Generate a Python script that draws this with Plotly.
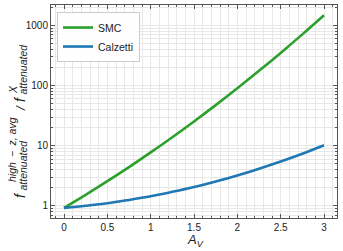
import plotly.graph_objects as go

a_v = [0.0, 0.25, 0.5, 0.75, 1.0, 1.25, 1.5, 1.75, 2.0, 2.25, 2.5, 2.75, 3.0]
smc = [0.93, 1.53, 2.58, 4.42, 7.76, 13.9, 25.4, 47.4, 90.4, 176, 350, 711, 1479]
calzetti = [0.93, 1.01, 1.11, 1.26, 1.45, 1.72, 2.07, 2.56, 3.22, 4.16, 5.48, 7.38, 10.2]
y_tickvals = [1, 10, 100, 1000]
y_ticktext = ["1", "10", "100", "1000"]
x_tickvals = [0, 0.5, 1, 1.5, 2, 2.5, 3]
x_ticktext = ["0", "0.5", "1", "1.5", "2", "2.5", "3"]

FONT = "Liberation Sans, Arial, sans-serif"
AXC = "#555555"
GRID = "#e8e8e8"

fig = go.Figure()
fig.add_trace(go.Scatter(x=a_v, y=smc, mode="lines", name="SMC",
                         line=dict(color="#2ca02c", width=2.6, shape="spline")))
fig.add_trace(go.Scatter(x=a_v, y=calzetti, mode="lines", name="Calzetti",
                         line=dict(color="#1f77b4", width=2.6, shape="spline")))

fig.update_layout(
    width=343, height=251,
    margin=dict(l=51, r=6, t=5, b=33),
    paper_bgcolor="white", plot_bgcolor="white",
    font=dict(family=FONT, size=10, color="#222222"),
    legend=dict(x=0.021, y=0.967, xanchor="left", yanchor="top",
                bgcolor="rgba(255,255,255,0.9)", bordercolor="#cccccc", borderwidth=1,
                font=dict(size=10.5, color="#222222"), itemwidth=30,
                tracegroupgap=0),
    showlegend=True,
)

fig.update_xaxes(
    range=[-0.15, 3.15], tickvals=x_tickvals, ticktext=x_ticktext,
    ticks="inside", ticklen=4, tickwidth=1, tickcolor=AXC,
    showline=True, linecolor=AXC, linewidth=1, mirror="ticks",
    showgrid=True, gridcolor=GRID, gridwidth=1, zeroline=False,
    minor=dict(dtick=0.1, tick0=0, ticks="inside", ticklen=2, tickcolor=AXC,
               showgrid=True, gridcolor=GRID, gridwidth=1),
)

fig.update_yaxes(
    type="log", range=[-0.20, 3.34], tickvals=y_tickvals, ticktext=y_ticktext,
    ticks="inside", ticklen=4, tickwidth=1, tickcolor=AXC,
    showline=True, linecolor=AXC, linewidth=1, mirror="ticks",
    showgrid=True, gridcolor=GRID, gridwidth=1, zeroline=False,
    minor=dict(dtick="D1", ticks="inside", ticklen=2, tickcolor=AXC,
               showgrid=True, gridcolor=GRID, gridwidth=1),
)

# text pieces placed by pixel position (page coordinates)
def lab(text, px, py, size, angle=-90):
    fig.add_annotation(text=text, xref="paper", yref="paper", x=0, y=0,
                       xshift=px - 51, yshift=218 - py, xanchor="center", yanchor="middle",
                       textangle=angle, showarrow=False,
                       font=dict(family=FONT, size=size, color="#222222"))

lab("<i>f</i>", 20, 195, 14)
lab("<i>high\u2002−\u2002z, avg</i>", 12, 150, 10.5)
lab("<i>attenuated</i>", 22.5, 165, 10.5)
lab("<i>/</i>", 20, 108, 13)
lab("<i>f</i>", 20, 99, 14)
lab("<i>X</i>", 13, 90, 10.5)
lab("<i>attenuated</i>", 22.5, 69, 10.5)
lab("<i>A</i><sub><i>V</i></sub>", 195, 240, 13, angle=0)

fig.write_html("out.html", config={"displayModeBar": False},
               post_script="document.body.style.margin='0';")
